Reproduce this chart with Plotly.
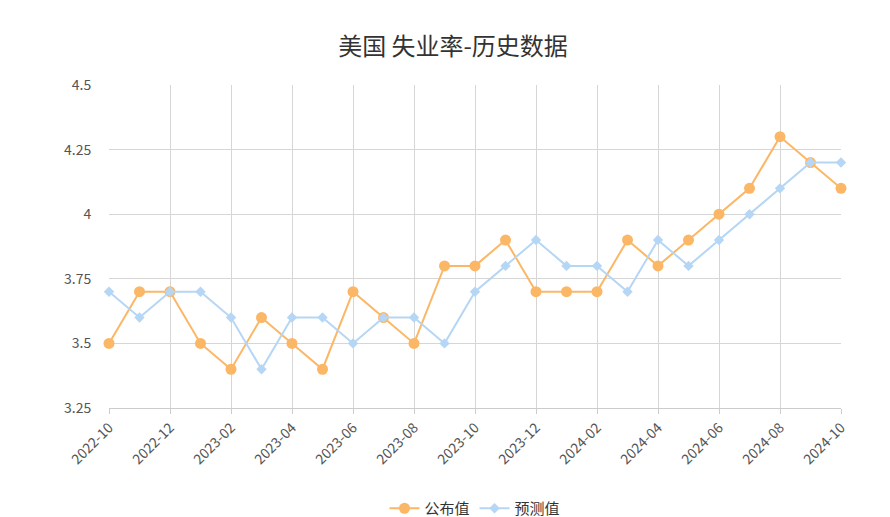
import plotly.graph_objects as go

months = ["2022-10", "2022-11", "2022-12", "2023-01", "2023-02", "2023-03", "2023-04", "2023-05",
          "2023-06", "2023-07", "2023-08", "2023-09", "2023-10", "2023-11", "2023-12", "2024-01",
          "2024-02", "2024-03", "2024-04", "2024-05", "2024-06", "2024-07", "2024-08", "2024-09", "2024-10"]
actual = [3.5, 3.7, 3.7, 3.5, 3.4, 3.6, 3.5, 3.4, 3.7, 3.6, 3.5, 3.8, 3.8,
          3.9, 3.7, 3.7, 3.7, 3.9, 3.8, 3.9, 4.0, 4.1, 4.3, 4.2, 4.1]
forecast = [3.7, 3.6, 3.7, 3.7, 3.6, 3.4, 3.6, 3.6, 3.5, 3.6, 3.6, 3.5, 3.7,
            3.8, 3.9, 3.8, 3.8, 3.7, 3.9, 3.8, 3.9, 4.0, 4.1, 4.2, 4.2]
y_ticks = [3.25, 3.5, 3.75, 4, 4.25, 4.5]
y_labels = ["3.25", "3.5", "3.75", "4", "4.25", "4.5"]

fig = go.Figure()
fig.add_trace(go.Scatter(x=months, y=actual, name="公布值", mode="lines+markers", cliponaxis=False,
                         line=dict(color="#fbb766", width=2),
                         marker=dict(size=11, color="#fbb766")))
fig.add_trace(go.Scatter(x=months, y=forecast, name="预测值", mode="lines+markers", cliponaxis=False,
                         line=dict(color="#b5d6f4", width=2),
                         marker=dict(size=8, symbol="diamond", color="#b5d6f4")))

fig.update_layout(
    width=890, height=517,
    title=dict(text="美国 失业率-历史数据", x=0.5, y=0.925, xanchor="center", yanchor="middle",
               font=dict(size=24, color="#333")),
    font=dict(family="Noto Sans CJK SC", color="#555"),
    plot_bgcolor="white", paper_bgcolor="white",
    margin=dict(l=101, r=57, t=77, b=117),
    showlegend=True,
    legend=dict(orientation="h", x=0.5, xanchor="center", yref="container", yanchor="bottom", y=0.0,
                font=dict(size=15, color="#333")),
    hovermode="x",
)
fig.update_xaxes(type="category", tickvals=months[::2], tickangle=-45, showgrid=True, automargin=False,
                 gridcolor="#d6d6d6", showline=True, linecolor="#ccc", ticks="outside",
                 tickcolor="#ccc", tickfont=dict(size=14, color="#555"), range=[0, 24])
fig.update_yaxes(range=[3.25, 4.5], tickvals=y_ticks, ticktext=y_labels, showgrid=True, automargin=False,
                 gridcolor="#d6d6d6", zeroline=False, tickfont=dict(size=14, color="#555"),
                 ticks="outside", ticklen=14, tickcolor="rgba(0,0,0,0)")

fig.write_html("out.html")
